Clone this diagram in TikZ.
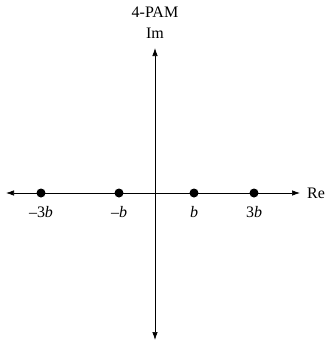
\documentclass[tikz,border=0pt]{standalone}
\usepackage{fontspec}
\setmainfont{Liberation Serif}
\usetikzlibrary{arrows.meta}
\tikzset{
  pamdot/.style={circle, fill=black, inner sep=0pt, minimum size=9pt},
  ptlabel/.style={anchor=base, inner sep=0pt, font=\fontsize{16}{18}\selectfont},
  axlabel/.style={inner sep=0pt, font=\fontsize{16}{18}\selectfont},
  axisline/.style={line width=0.7pt, {Latex[length=8pt,width=5.5pt]}-{Latex[length=8pt,width=5.5pt]}}
}
\begin{document}
\begin{tikzpicture}[x=1pt, y=-1pt]
	\useasboundingbox (0,0) rectangle (327,346);
	% axes
	\coordinate (west) at (6,193);
	\coordinate (east) at (300,193);
	\coordinate (north) at (155,48);
	\coordinate (south) at (155,340);
	\draw[axisline] (west) -- (east);
	\draw[axisline] (south) -- (north);
	\node[axlabel, anchor=base west] (re) at (307,198) {Re};
	\node[axlabel, anchor=base] (im) at (155,38) {Im};
	\node[axlabel, anchor=base] (title) at (155,17) {4-PAM};
	% constellation points
	\node[pamdot] (p1) at (41,193) {};
	\node[pamdot] (p2) at (119,193) {};
	\node[pamdot] (p3) at (194,193) {};
	\node[pamdot] (p4) at (254,193) {};
	\node[ptlabel] (l1) at (41,217) {–3\textit{b}};
	\node[ptlabel] (l2) at (119,217) {–\textit{b}};
	\node[ptlabel] (l3) at (194,217) {\textit{b}};
	\node[ptlabel] (l4) at (254,217) {3\textit{b}};
\end{tikzpicture}
\end{document}
